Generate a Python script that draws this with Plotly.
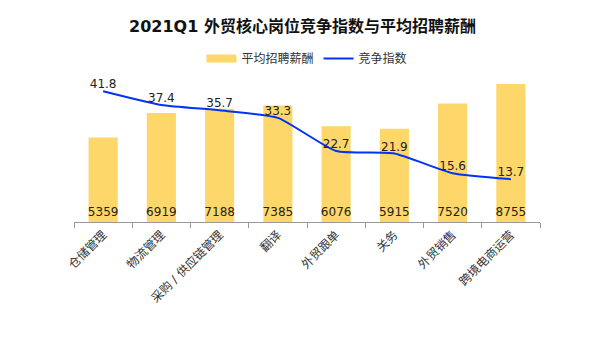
import plotly.graph_objects as go

categories = ["仓储管理", "物流管理", "采购 / 供应链管理", "翻译", "外贸跟单", "关务", "外贸销售", "跨境电商运营"]
salary = [5359, 6919, 7188, 7385, 6076, 5915, 7520, 8755]
competition = [41.8, 37.4, 35.7, 33.3, 22.7, 21.9, 15.6, 13.7]

FONT = "DejaVu Sans, Noto Sans CJK SC, sans-serif"
BAR_COLOR = "#FDD769"
LINE_COLOR = "#0033F5"

fig = go.Figure()
fig.add_trace(go.Bar(
    x=categories, y=salary, name="平均招聘薪酬", showlegend=False,
    marker=dict(color=BAR_COLOR, line=dict(width=0)),
    width=0.5,
    text=[str(v) for v in salary], textposition="inside", insidetextanchor="start", textangle=0,
    textfont=dict(color="#222222", size=12, family=FONT),
    cliponaxis=False,
))
# legend-only entry so the bar series shows a wide swatch like the original
fig.add_trace(go.Scatter(
    x=[None], y=[None], name="平均招聘薪酬", mode="lines",
    line=dict(color=BAR_COLOR, width=8), showlegend=True,
))
fig.add_trace(go.Scatter(
    x=categories, y=competition, name="竞争指数", yaxis="y2",
    mode="lines+text", line=dict(color=LINE_COLOR, width=2, shape="spline", smoothing=0.5),
    text=[str(v) for v in competition], textposition="top center",
    textfont=dict(color="#222222", size=12, family=FONT),
    cliponaxis=False,
))

fig.update_layout(
    width=605, height=340,
    margin=dict(l=74, r=65, t=60, b=118),
    paper_bgcolor="white", plot_bgcolor="white",
    font=dict(family=FONT, size=12, color="#333333"),
    title=dict(text="<b>2021Q1 外贸核心岗位竞争指数与平均招聘薪酬</b>", x=0.5, xanchor="center",
               y=1 - 26 / 340, yanchor="middle", font=dict(size=16, color="#111111", family=FONT)),
    showlegend=True,
    legend=dict(orientation="h", x=0.5, xanchor="center", y=1.01, yanchor="middle",
                font=dict(size=12, color="#333333"), bgcolor="rgba(0,0,0,0)"),
    uniformtext=dict(minsize=12, mode="show"),
    bargap=0.5,
    xaxis=dict(showline=True, linecolor="#999999", linewidth=1, ticks="outside", ticklen=5,
               tickcolor="#999999", tickangle=-45, showgrid=False,
               tickfont=dict(size=12, color="#333333"), tickson="boundaries"),
    yaxis=dict(range=[0, 10280], visible=False, showgrid=False),
    yaxis2=dict(range=[0, 51.8], overlaying="y", side="right", visible=False, showgrid=False),
)

fig.write_html("out.html")
